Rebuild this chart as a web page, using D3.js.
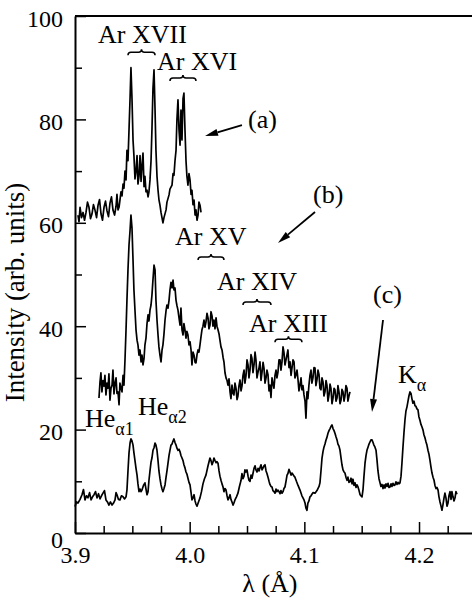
<!DOCTYPE html>
<html>
<head>
<meta charset="utf-8">
<script src="https://cdn.jsdelivr.net/npm/d3@7"></script>
</head>
<body style="margin:0">
<div id="chart"></div>
<script>
// spectrum (a): Ar XVII / Ar XVI lines, [wavelength (A), intensity]
const specA = [
  [3.9026, 61.5], [3.9035, 60.2], [3.9044, 63.0], [3.9057, 61.0], [3.9070, 62.0], [3.9083, 60.5],
  [3.9096, 62.0], [3.9109, 64.0], [3.9122, 63.0], [3.9135, 60.8], [3.9148, 61.7], [3.9161, 63.5],
  [3.9174, 62.5], [3.9188, 61.0], [3.9201, 63.4], [3.9214, 64.5], [3.9227, 61.7], [3.9240, 60.5],
  [3.9253, 63.0], [3.9266, 64.2], [3.9279, 62.3], [3.9292, 61.2], [3.9305, 63.8], [3.9318, 65.0],
  [3.9331, 62.5], [3.9345, 61.5], [3.9358, 63.2], [3.9366, 65.5], [3.9375, 62.5], [3.9384, 63.0],
  [3.9392, 64.4], [3.9401, 66.0], [3.9410, 65.2], [3.9419, 67.5], [3.9427, 66.7], [3.9436, 70.0],
  [3.9445, 68.3], [3.9453, 74.0], [3.9462, 72.0], [3.9471, 78.0], [3.9480, 84.0], [3.9488, 90.0],
  [3.9497, 84.0], [3.9506, 76.0], [3.9514, 73.0], [3.9523, 68.5], [3.9532, 70.0], [3.9541, 73.0],
  [3.9549, 67.5], [3.9558, 69.0], [3.9567, 73.0], [3.9576, 68.0], [3.9584, 71.0], [3.9593, 73.5],
  [3.9602, 67.0], [3.9610, 69.0], [3.9619, 66.0], [3.9628, 66.3], [3.9637, 65.0], [3.9645, 66.0],
  [3.9654, 68.3], [3.9663, 72.0], [3.9671, 78.0], [3.9680, 86.0], [3.9689, 89.6], [3.9698, 81.8],
  [3.9706, 74.0], [3.9715, 69.0], [3.9724, 66.3], [3.9732, 64.5], [3.9741, 63.4], [3.9750, 62.0],
  [3.9767, 60.0], [3.9776, 61.0], [3.9794, 62.5], [3.9802, 64.0], [3.9820, 65.4], [3.9828, 66.5],
  [3.9846, 67.3], [3.9855, 69.5], [3.9863, 69.2], [3.9872, 72.0], [3.9881, 74.0], [3.9889, 80.0],
  [3.9898, 83.8], [3.9907, 78.0], [3.9916, 75.0], [3.9924, 81.8], [3.9933, 76.0], [3.9942, 84.0],
  [3.9950, 85.1], [3.9959, 78.0], [3.9968, 72.0], [3.9976, 69.0], [3.9985, 67.3], [3.9994, 69.5],
  [4.0003, 68.3], [4.0012, 65.5], [4.0020, 66.3], [4.0029, 63.5], [4.0038, 64.4], [4.0047, 61.5],
  [4.0055, 62.5], [4.0064, 60.5], [4.0073, 61.5], [4.0081, 64.0], [4.0090, 63.4], [4.0099, 62.0]
];

// spectrum (b): Ar XVII ... Ar XIII lines
const specB = [
  [3.9209, 26.1], [3.9218, 29.2], [3.9226, 31.0], [3.9235, 27.3], [3.9244, 29.5], [3.9253, 28.4],
  [3.9261, 30.5], [3.9270, 26.7], [3.9279, 29.0], [3.9288, 28.0], [3.9296, 30.8], [3.9305, 25.7],
  [3.9314, 28.0], [3.9323, 28.6], [3.9331, 31.5], [3.9340, 26.9], [3.9349, 29.0], [3.9358, 30.0],
  [3.9366, 27.0], [3.9375, 27.3], [3.9384, 24.8], [3.9392, 29.0], [3.9401, 28.0], [3.9410, 27.3],
  [3.9419, 30.5], [3.9427, 28.6], [3.9436, 33.5], [3.9445, 39.3], [3.9453, 45.0], [3.9462, 50.9],
  [3.9471, 55.7], [3.9480, 58.5], [3.9488, 61.5], [3.9497, 59.0], [3.9506, 52.8], [3.9514, 47.0],
  [3.9523, 43.1], [3.9532, 39.3], [3.9541, 37.3], [3.9549, 36.4], [3.9558, 34.4], [3.9567, 35.4],
  [3.9576, 33.1], [3.9584, 34.4], [3.9593, 32.5], [3.9602, 33.8], [3.9610, 36.4], [3.9619, 37.7],
  [3.9628, 40.5], [3.9637, 42.2], [3.9645, 41.0], [3.9654, 43.1], [3.9663, 44.1], [3.9671, 46.0],
  [3.9680, 49.0], [3.9689, 51.8], [3.9698, 50.9], [3.9706, 45.0], [3.9715, 41.2], [3.9724, 38.3],
  [3.9732, 36.0], [3.9741, 34.4], [3.9750, 33.1], [3.9759, 35.4], [3.9767, 36.4], [3.9776, 38.5],
  [3.9785, 41.2], [3.9794, 43.0], [3.9802, 44.1], [3.9811, 43.5], [3.9820, 45.0], [3.9828, 47.0],
  [3.9837, 48.5], [3.9846, 47.4], [3.9855, 48.9], [3.9863, 47.0], [3.9872, 47.4], [3.9881, 45.0],
  [3.9889, 44.0], [3.9898, 43.1], [3.9907, 41.6], [3.9916, 40.2], [3.9924, 43.5], [3.9933, 39.3],
  [3.9942, 38.3], [3.9950, 40.5], [3.9959, 39.3], [3.9968, 37.7], [3.9976, 39.0], [3.9985, 38.3],
  [3.9994, 36.4], [4.0003, 37.0], [4.0012, 35.4], [4.0020, 32.5], [4.0029, 35.0], [4.0038, 34.4],
  [4.0047, 33.0], [4.0055, 32.9], [4.0064, 34.5], [4.0073, 35.4], [4.0081, 35.0], [4.0090, 36.4],
  [4.0099, 38.0], [4.0107, 39.3], [4.0116, 40.0], [4.0125, 41.2], [4.0133, 39.8], [4.0142, 40.8],
  [4.0151, 42.5], [4.0160, 41.6], [4.0168, 39.5], [4.0177, 40.2], [4.0186, 42.8], [4.0195, 42.0],
  [4.0203, 40.0], [4.0212, 41.2], [4.0221, 39.5], [4.0230, 41.6], [4.0238, 40.0], [4.0247, 39.3],
  [4.0256, 38.5], [4.0264, 37.3], [4.0273, 36.0], [4.0282, 35.4], [4.0291, 34.0], [4.0299, 33.1],
  [4.0308, 31.0], [4.0317, 30.0], [4.0326, 29.5], [4.0334, 28.6], [4.0343, 29.8], [4.0352, 27.3],
  [4.0360, 26.0], [4.0369, 28.6], [4.0378, 27.0], [4.0386, 26.7], [4.0395, 29.0], [4.0404, 28.0],
  [4.0413, 25.8], [4.0421, 26.5], [4.0430, 28.5], [4.0439, 29.6], [4.0448, 27.5], [4.0456, 28.4],
  [4.0465, 30.5], [4.0474, 31.5], [4.0482, 29.0], [4.0491, 30.4], [4.0500, 33.5], [4.0509, 32.5],
  [4.0517, 30.0], [4.0526, 31.5], [4.0535, 34.5], [4.0543, 33.8], [4.0552, 31.0], [4.0561, 32.5],
  [4.0570, 35.0], [4.0578, 33.5], [4.0587, 30.0], [4.0596, 31.1], [4.0605, 32.0], [4.0613, 33.1],
  [4.0622, 29.5], [4.0631, 31.1], [4.0640, 33.0], [4.0648, 31.9], [4.0657, 29.0], [4.0666, 30.0],
  [4.0674, 31.5], [4.0683, 30.6], [4.0692, 27.5], [4.0700, 28.6], [4.0709, 26.2], [4.0718, 30.0],
  [4.0726, 29.0], [4.0735, 28.0], [4.0744, 30.5], [4.0753, 31.5], [4.0761, 30.0], [4.0770, 31.1],
  [4.0779, 33.5], [4.0788, 33.5], [4.0796, 31.5], [4.0805, 33.1], [4.0814, 36.0], [4.0822, 35.0],
  [4.0831, 32.5], [4.0840, 33.5], [4.0849, 34.5], [4.0857, 35.4], [4.0866, 32.0], [4.0875, 33.1],
  [4.0884, 30.5], [4.0892, 31.9], [4.0901, 33.5], [4.0910, 33.1], [4.0918, 30.0], [4.0927, 30.6],
  [4.0936, 31.5], [4.0945, 29.6], [4.0953, 27.5], [4.0962, 28.6], [4.0971, 30.0], [4.0979, 27.7],
  [4.0988, 28.5], [4.0997, 26.7], [4.1006, 25.5], [4.1014, 22.2], [4.1023, 27.3], [4.1031, 26.0],
  [4.1040, 28.6], [4.1049, 30.5], [4.1058, 31.5], [4.1066, 29.0], [4.1075, 30.0], [4.1084, 32.0],
  [4.1093, 31.9], [4.1101, 28.5], [4.1110, 29.6], [4.1119, 31.5], [4.1128, 30.6], [4.1136, 28.0],
  [4.1145, 27.7], [4.1154, 30.0], [4.1163, 29.2], [4.1171, 26.5], [4.1180, 27.3], [4.1189, 29.5],
  [4.1197, 28.6], [4.1206, 25.5], [4.1215, 26.7], [4.1224, 28.8], [4.1232, 28.0], [4.1241, 25.0],
  [4.1250, 26.1], [4.1259, 28.0], [4.1267, 27.7], [4.1276, 25.5], [4.1285, 26.1], [4.1293, 28.5],
  [4.1302, 27.3], [4.1311, 25.0], [4.1320, 25.7], [4.1328, 27.8], [4.1337, 27.3], [4.1346, 25.5],
  [4.1354, 26.5], [4.1363, 28.5], [4.1372, 28.0], [4.1380, 25.5], [4.1389, 26.5], [4.1398, 27.3]
];

// spectrum (c): He-alpha ... K-alpha
const specC = [
  [3.9000, 5.1], [3.9013, 6.0], [3.9026, 5.8], [3.9044, 6.5], [3.9061, 7.4], [3.9074, 8.4],
  [3.9087, 6.4], [3.9100, 7.2], [3.9113, 6.8], [3.9127, 7.8], [3.9140, 6.4], [3.9153, 7.0],
  [3.9166, 7.4], [3.9179, 8.0], [3.9192, 6.8], [3.9205, 7.6], [3.9218, 6.6], [3.9231, 7.2],
  [3.9244, 7.7], [3.9257, 8.2], [3.9270, 6.4], [3.9283, 6.0], [3.9296, 5.4], [3.9309, 6.0],
  [3.9323, 5.4], [3.9336, 5.8], [3.9349, 6.4], [3.9358, 7.8], [3.9366, 7.4], [3.9379, 6.5],
  [3.9392, 6.4], [3.9405, 7.2], [3.9419, 7.0], [3.9432, 6.6], [3.9445, 7.0], [3.9453, 8.3],
  [3.9462, 12.0], [3.9471, 15.5], [3.9480, 17.4], [3.9488, 18.2], [3.9497, 17.8], [3.9506, 17.0],
  [3.9514, 15.5], [3.9523, 14.0], [3.9532, 12.5], [3.9541, 11.2], [3.9549, 9.5], [3.9558, 8.0],
  [3.9567, 8.5], [3.9576, 8.0], [3.9584, 8.3], [3.9597, 9.2], [3.9610, 9.7], [3.9619, 8.5],
  [3.9628, 7.4], [3.9637, 8.0], [3.9645, 10.2], [3.9654, 12.0], [3.9663, 13.7], [3.9671, 14.5],
  [3.9680, 16.0], [3.9689, 16.5], [3.9698, 17.4], [3.9706, 17.0], [3.9715, 16.0], [3.9724, 14.0],
  [3.9732, 12.0], [3.9741, 10.5], [3.9750, 9.3], [3.9759, 8.5], [3.9767, 8.0], [3.9776, 8.6],
  [3.9785, 9.3], [3.9794, 10.8], [3.9802, 12.0], [3.9811, 13.5], [3.9820, 15.0], [3.9828, 16.0],
  [3.9837, 17.0], [3.9846, 17.2], [3.9855, 17.8], [3.9863, 18.2], [3.9872, 17.5], [3.9881, 17.0],
  [3.9889, 16.4], [3.9898, 16.0], [3.9907, 16.2], [3.9916, 15.7], [3.9924, 15.0], [3.9933, 14.5],
  [3.9942, 14.0], [3.9950, 13.2], [3.9959, 12.6], [3.9968, 11.8], [3.9976, 11.4], [3.9985, 10.6],
  [3.9994, 9.8], [4.0003, 9.3], [4.0012, 7.8], [4.0020, 6.4], [4.0029, 6.8], [4.0038, 7.4],
  [4.0047, 6.2], [4.0055, 5.6], [4.0064, 5.2], [4.0077, 6.0], [4.0090, 6.8], [4.0103, 8.0],
  [4.0116, 9.5], [4.0129, 10.5], [4.0142, 11.2], [4.0160, 13.0], [4.0177, 14.5], [4.0186, 14.0],
  [4.0195, 13.2], [4.0203, 13.7], [4.0212, 14.5], [4.0221, 14.0], [4.0230, 13.6], [4.0238, 13.8],
  [4.0247, 13.5], [4.0256, 12.0], [4.0264, 11.0], [4.0273, 10.2], [4.0282, 9.5], [4.0291, 8.9],
  [4.0299, 8.0], [4.0308, 8.6], [4.0317, 8.3], [4.0326, 7.2], [4.0334, 6.4], [4.0343, 6.8],
  [4.0352, 7.4], [4.0360, 6.5], [4.0369, 6.0], [4.0378, 5.4], [4.0386, 5.8], [4.0395, 6.4],
  [4.0408, 7.0], [4.0421, 7.7], [4.0434, 9.0], [4.0448, 10.2], [4.0456, 11.5], [4.0465, 10.5],
  [4.0474, 11.0], [4.0482, 12.2], [4.0491, 11.8], [4.0500, 12.2], [4.0509, 11.0], [4.0517, 10.2],
  [4.0526, 10.0], [4.0535, 11.2], [4.0543, 10.6], [4.0552, 11.5], [4.0561, 12.5], [4.0570, 13.0],
  [4.0578, 12.2], [4.0587, 11.8], [4.0596, 12.5], [4.0605, 12.0], [4.0613, 12.6], [4.0622, 13.2],
  [4.0631, 12.2], [4.0640, 12.6], [4.0648, 13.0], [4.0657, 13.2], [4.0666, 12.0], [4.0674, 11.5],
  [4.0683, 10.8], [4.0692, 10.0], [4.0700, 9.4], [4.0709, 9.0], [4.0718, 8.9], [4.0726, 8.2],
  [4.0735, 8.0], [4.0744, 7.7], [4.0753, 8.5], [4.0761, 8.0], [4.0770, 8.3], [4.0779, 8.0],
  [4.0788, 7.6], [4.0796, 8.2], [4.0805, 7.7], [4.0814, 8.0], [4.0822, 8.6], [4.0831, 8.9],
  [4.0840, 10.0], [4.0849, 11.2], [4.0857, 11.5], [4.0866, 12.3], [4.0875, 11.8], [4.0884, 11.2],
  [4.0892, 11.6], [4.0901, 11.3], [4.0910, 11.0], [4.0918, 10.8], [4.0931, 10.0], [4.0945, 9.2],
  [4.0962, 8.3], [4.0979, 7.2], [4.0997, 6.4], [4.1006, 5.8], [4.1014, 4.8], [4.1023, 4.4],
  [4.1031, 5.8], [4.1040, 6.2], [4.1049, 7.0], [4.1058, 7.2], [4.1066, 7.5], [4.1075, 7.8],
  [4.1093, 7.7], [4.1110, 8.2], [4.1128, 9.0], [4.1136, 9.7], [4.1145, 12.0], [4.1154, 14.5],
  [4.1163, 15.8], [4.1171, 16.6], [4.1180, 17.2], [4.1189, 18.0], [4.1197, 18.5], [4.1206, 19.3],
  [4.1215, 19.8], [4.1224, 20.2], [4.1232, 20.6], [4.1241, 20.9], [4.1250, 20.2], [4.1259, 19.8],
  [4.1267, 19.3], [4.1276, 18.6], [4.1285, 18.0], [4.1293, 17.2], [4.1302, 16.8], [4.1311, 16.0],
  [4.1320, 14.5], [4.1328, 13.2], [4.1337, 12.2], [4.1346, 11.8], [4.1354, 11.6], [4.1363, 10.8],
  [4.1372, 10.2], [4.1380, 10.8], [4.1389, 9.8], [4.1398, 9.9], [4.1407, 10.6], [4.1416, 9.5],
  [4.1424, 10.4], [4.1433, 9.2], [4.1442, 9.7], [4.1451, 8.8], [4.1459, 9.3], [4.1468, 8.9],
  [4.1477, 8.2], [4.1486, 7.4], [4.1494, 7.2], [4.1503, 7.0], [4.1512, 8.5], [4.1520, 11.0],
  [4.1529, 13.5], [4.1538, 15.0], [4.1546, 16.0], [4.1555, 16.6], [4.1564, 17.2], [4.1572, 17.6],
  [4.1581, 18.0], [4.1590, 18.0], [4.1599, 17.5], [4.1607, 17.0], [4.1616, 16.6], [4.1625, 16.0],
  [4.1634, 14.0], [4.1642, 12.0], [4.1651, 10.5], [4.1660, 9.7], [4.1668, 9.0], [4.1677, 9.4],
  [4.1686, 8.6], [4.1695, 9.3], [4.1703, 8.7], [4.1712, 9.5], [4.1721, 9.0], [4.1730, 9.6],
  [4.1738, 8.8], [4.1747, 8.9], [4.1756, 9.5], [4.1764, 9.0], [4.1773, 9.6], [4.1782, 9.2],
  [4.1790, 9.3], [4.1799, 9.9], [4.1808, 9.4], [4.1817, 9.8], [4.1825, 9.5], [4.1834, 9.7],
  [4.1843, 11.0], [4.1851, 13.5], [4.1860, 16.6], [4.1869, 19.5], [4.1878, 22.0], [4.1886, 23.6],
  [4.1895, 24.4], [4.1904, 25.5], [4.1912, 26.5], [4.1921, 27.3], [4.1930, 27.0], [4.1938, 26.0],
  [4.1947, 25.1], [4.1956, 25.5], [4.1965, 24.6], [4.1973, 24.5], [4.1982, 24.0], [4.1991, 23.8],
  [4.1999, 22.5], [4.2008, 21.8], [4.2017, 21.0], [4.2026, 20.5], [4.2035, 19.9], [4.2043, 19.0],
  [4.2052, 18.4], [4.2061, 17.6], [4.2069, 17.0], [4.2078, 16.0], [4.2087, 15.2], [4.2096, 14.0],
  [4.2104, 12.8], [4.2113, 11.6], [4.2122, 10.8], [4.2131, 10.2], [4.2139, 9.2], [4.2148, 8.6],
  [4.2157, 8.8], [4.2166, 8.3], [4.2174, 7.0], [4.2183, 6.0], [4.2192, 5.2], [4.2200, 4.4],
  [4.2209, 5.5], [4.2218, 6.8], [4.2226, 7.7], [4.2235, 6.8], [4.2244, 5.2], [4.2253, 5.8],
  [4.2261, 7.2], [4.2270, 8.0], [4.2279, 6.5], [4.2287, 8.0], [4.2296, 7.0], [4.2305, 6.2],
  [4.2314, 6.8], [4.2322, 8.0], [4.2331, 7.5]
];

// axis ticks
const yMajor = [0, 20, 40, 60, 80, 100];
const yMinor = [10, 30, 50, 70, 90];
const xMajor = [3.9, 4.0, 4.1, 4.2];
const xMinor = [3.925, 3.95, 3.975, 4.025, 4.05, 4.075, 4.125, 4.15, 4.175, 4.225];

// ion labels: text, wavelength of left edge, intensity of baseline
const ionLabels = [
  { text: 'Ar XVII', lam: 3.9201, val: 94.8 },
  { text: 'Ar XVI', lam: 3.9715, val: 89.6 },
  { text: 'Ar XV', lam: 3.9872, val: 55.7 },
  { text: 'Ar XIV', lam: 4.0238, val: 47.0 },
  { text: 'Ar XIII', lam: 4.0517, val: 38.9 }
];
// braces under the ion numerals: [from, to] wavelength and intensity level
const braces = [
  { from: 3.9462, to: 3.9698, val: 93.0 },
  { from: 3.9828, to: 4.0055, val: 88.0 },
  { from: 4.0073, to: 4.0299, val: 53.4 },
  { from: 4.0465, to: 4.0709, val: 44.7 },
  { from: 4.0744, to: 4.0979, val: 37.5 }
];
// spectrum tags with arrows
const tags = [
  { text: '(a)', lam: 4.0509, val: 78.3, from: [4.0456, 78.9], to: [4.0134, 76.8] },
  { text: '(b)', lam: 4.1076, val: 63.8, from: [4.1093, 62.1], to: [4.0770, 56.1] },
  { text: '(c)', lam: 4.1599, val: 44.5, from: [4.1686, 41.2], to: [4.1590, 23.4] }
];
// line names with subscripts
const lineNames = [
  { main: 'He', sub: 'α1', lam: 3.9087, val: 20.5 },
  { main: 'He', sub: 'α2', lam: 3.9549, val: 22.8 },
  { main: 'K', sub: 'α', lam: 4.1817, val: 29.0 }
];

const width = 472, height = 606;
const margin = { top: 16, right: 0, bottom: 73, left: 75 };
const FONT = 'Liberation Serif';

const svg = d3.select('#chart').append('svg')
  .attr('width', width)
  .attr('height', height)
  .attr('font-family', FONT);

const x = d3.scaleLinear()
  .domain([3.9, 4.2462])
  .range([margin.left, width - margin.right]);

const y = d3.scaleLinear()
  .domain([0, 100])
  .range([height - margin.bottom, margin.top]);

// serif text set straight on the element
function label(parent, size) {
  return parent.append('text')
    .attr('font-size', size)
    .attr('font-family', FONT)
    .style('font-family', '"Liberation Serif"');
}

// top frame line
svg.append('line')
  .attr('x1', margin.left).attr('x2', width)
  .attr('y1', margin.top).attr('y2', margin.top)
  .attr('stroke', '#000').attr('stroke-width', 2);

// Y axis
const yAxis = svg.append('g')
  .attr('transform', `translate(${margin.left},0)`)
  .call(d3.axisLeft(y).tickValues(yMajor).tickSize(-11).tickSizeOuter(0).tickPadding(12));
svg.append('g')
  .attr('transform', `translate(${margin.left},0)`)
  .call(d3.axisLeft(y).tickValues(yMinor).tickSize(-7).tickFormat(''))
  .call(g => g.select('.domain').remove());

// X axis
svg.append('g')
  .attr('transform', `translate(0,${height - margin.bottom})`)
  .call(d3.axisBottom(x).tickValues(xMajor).tickSize(-11).tickSizeOuter(0).tickPadding(13).tickFormat(d3.format('.1f')));
svg.append('g')
  .attr('transform', `translate(0,${height - margin.bottom})`)
  .call(d3.axisBottom(x).tickValues(xMinor).tickSize(-7).tickFormat(''))
  .call(g => g.select('.domain').remove());

svg.selectAll('g').attr('font-family', FONT);
svg.selectAll('.domain').attr('stroke-width', 2);
svg.selectAll('.tick line').attr('stroke-width', 1.5);
svg.selectAll('.tick text')
  .attr('font-size', 24)
  .attr('font-family', FONT)
  .style('font-family', '"Liberation Serif"')
  .attr('fill', '#000');
yAxis.selectAll('.tick text').attr('dy', '0.42em');
// "0" on the y axis sits a little lower, as in the print
yAxis.selectAll('.tick').filter(d => d === 0).select('text').attr('dy', '0.6em');

// axis titles
label(svg, 27)
  .attr('transform', `translate(24,${y(50) + 18}) rotate(-90)`)
  .attr('text-anchor', 'middle')
  .text('Intensity (arb. units)');

label(svg, 26)
  .attr('x', x(4.07))
  .attr('y', 592)
  .attr('text-anchor', 'middle')
  .text('λ (Å)');

// spectra
const line = d3.line()
  .x(d => x(d[0]))
  .y(d => y(d[1]));

[specA, specB, specC].forEach(spec => {
  svg.append('path')
    .datum(spec)
    .attr('fill', 'none')
    .attr('stroke', '#000')
    .attr('stroke-width', 1.7)
    .attr('stroke-linejoin', 'round')
    .attr('d', line);
});

// ion labels
ionLabels.forEach(d => {
  label(svg, 26)
    .attr('x', x(d.lam))
    .attr('y', y(d.val))
    .text(d.text);
});

// braces (ends curl down, tip points up)
svg.selectAll('.brace')
  .data(braces)
  .enter()
  .append('path')
  .attr('class', 'brace')
  .attr('fill', 'none')
  .attr('stroke', '#000')
  .attr('stroke-width', 1.5)
  .attr('d', d => {
    const x1 = x(d.from), x2 = x(d.to), yy = y(d.val), m = (x1 + x2) / 2;
    return `M${x1},${yy + 3} Q${x1},${yy} ${x1 + 3},${yy} L${m - 3},${yy} Q${m},${yy} ${m},${yy - 3} ` +
           `Q${m},${yy} ${m + 3},${yy} L${x2 - 3},${yy} Q${x2},${yy} ${x2},${yy + 3}`;
  });

// spectrum tags and arrows
tags.forEach(t => {
  label(svg, 26)
    .attr('x', x(t.lam))
    .attr('y', y(t.val))
    .text(t.text);

  const x1 = x(t.from[0]), y1 = y(t.from[1]);
  const x2 = x(t.to[0]), y2 = y(t.to[1]);
  const ang = Math.atan2(y2 - y1, x2 - x1);
  const len = 13, hw = 3.5;
  const bx = x2 - len * Math.cos(ang), by = y2 - len * Math.sin(ang);
  svg.append('line')
    .attr('x1', x1).attr('y1', y1).attr('x2', bx).attr('y2', by)
    .attr('stroke', '#000').attr('stroke-width', 1.8);
  svg.append('path')
    .attr('fill', '#000')
    .attr('d', `M${x2},${y2} L${bx + hw * Math.sin(ang)},${by - hw * Math.cos(ang)} ` +
               `L${bx - hw * Math.sin(ang)},${by + hw * Math.cos(ang)} Z`);
});

// line names with subscripts
lineNames.forEach(d => {
  const t = label(svg, 26)
    .attr('x', x(d.lam))
    .attr('y', y(d.val))
    .text(d.main);
  t.append('tspan')
    .attr('font-size', 18)
    .attr('dy', 8)
    .text(d.sub);
});
</script>
</body>
</html>
